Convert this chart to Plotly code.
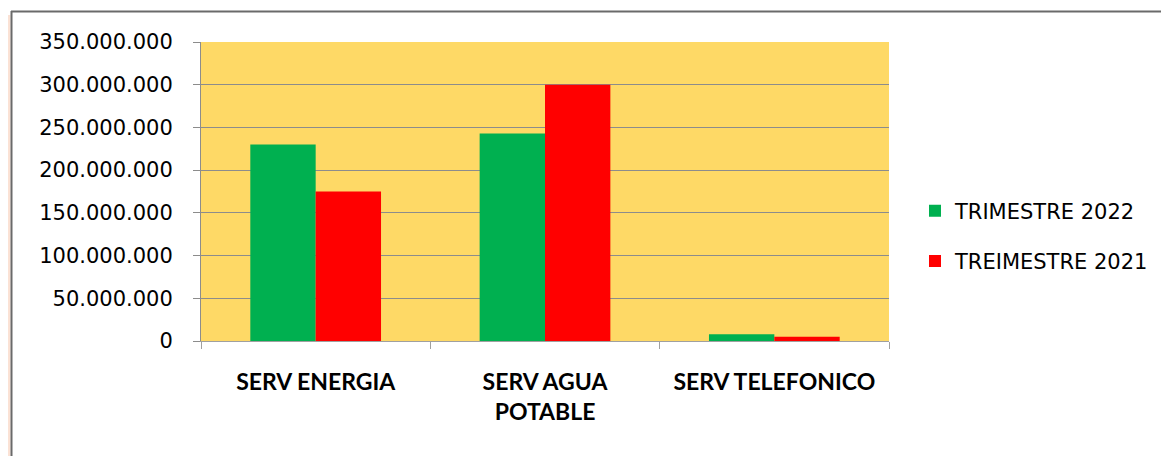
import plotly.graph_objects as go

categories = ["SERV ENERGIA", "SERV AGUA<br>POTABLE", "SERV TELEFONICO"]
series_names = ["TRIMESTRE 2022", "TREIMESTRE 2021"]
values_2022 = [230000000, 243000000, 8000000]
values_2021 = [175000000, 300000000, 5000000]
y_ticks = [0, 50000000, 100000000, 150000000, 200000000, 250000000, 300000000, 350000000]

# page offset (default body margin of the html page)
OFF = 8
W, H = 1169 - OFF, 456 - OFF
# plot area in reference pixel coords
PX0, PX1, PY0, PY1 = 201, 889, 42, 341
L, T = PX0 - OFF, PY0 - OFF
R, B = W - (PX1 - OFF), H - (PY1 - OFF)
pw, ph = W - L - R, H - T - B

def px(x):
    return (x - PX0) / pw

def py(y):
    return (PY1 - y) / ph

fig = go.Figure()
fig.add_trace(go.Bar(name=series_names[0], x=categories, y=values_2022, legendgroup="a",
                     marker=dict(color="#00b050", line=dict(width=0))))
fig.add_trace(go.Bar(name=series_names[1], x=categories, y=values_2021, legendgroup="b",
                     marker=dict(color="#ff0000", line=dict(width=0))))

shapes = [
    dict(type="rect", xref="paper", yref="paper", x0=px(0), x1=px(10.5), y0=py(15), y1=py(470),
         fillcolor="#fbe2d5", line=dict(width=0), layer="below"),
    dict(type="line", xref="paper", yref="paper", x0=px(11.5), x1=px(11.5), y0=py(11), y1=py(470),
         line=dict(color="#6a6a6a", width=2)),
    dict(type="line", xref="paper", yref="paper", x0=px(11), x1=px(1180), y0=py(11.5), y1=py(11.5),
         line=dict(color="#6a6a6a", width=2)),
]

fig.update_layout(
    width=W, height=H,
    margin=dict(l=L, r=R, t=T, b=B, pad=0),
    paper_bgcolor="white",
    plot_bgcolor="#fed966",
    barmode="group",
    bargap=0.43,
    bargroupgap=0,
    separators=",.",
    font=dict(family="DejaVu Sans, sans-serif", color="black"),
    shapes=shapes,
    legend=dict(x=px(915), y=py(236), xanchor="left", yanchor="middle",
                font=dict(size=21, color="black", family="DejaVu Sans, sans-serif"),
                bgcolor="rgba(0,0,0,0)", traceorder="grouped",
                tracegroupgap=20, itemwidth=30),
    xaxis=dict(type="category", tickson="boundaries", ticks="outside", ticklen=7,
               tickcolor="#a0a0a0", showline=True, linecolor="#a0a0a0", linewidth=1,
               tickfont=dict(size=23, family="Lato, Open Sans, sans-serif", weight="bold"),
               ticklabelstandoff=20, showgrid=False),
    yaxis=dict(range=[0, 350000000], tickvals=y_ticks, tickformat=",d", ticks="outside",
               ticklen=7, tickcolor="#8c8c8c", showline=True, linecolor="#8c8c8c",
               showgrid=True, gridcolor="#8c8c8c", gridwidth=1, zeroline=False,
               tickfont=dict(size=21, family="DejaVu Sans, sans-serif"),
               ticklabelstandoff=16),
)

fig.write_html("out.html")
